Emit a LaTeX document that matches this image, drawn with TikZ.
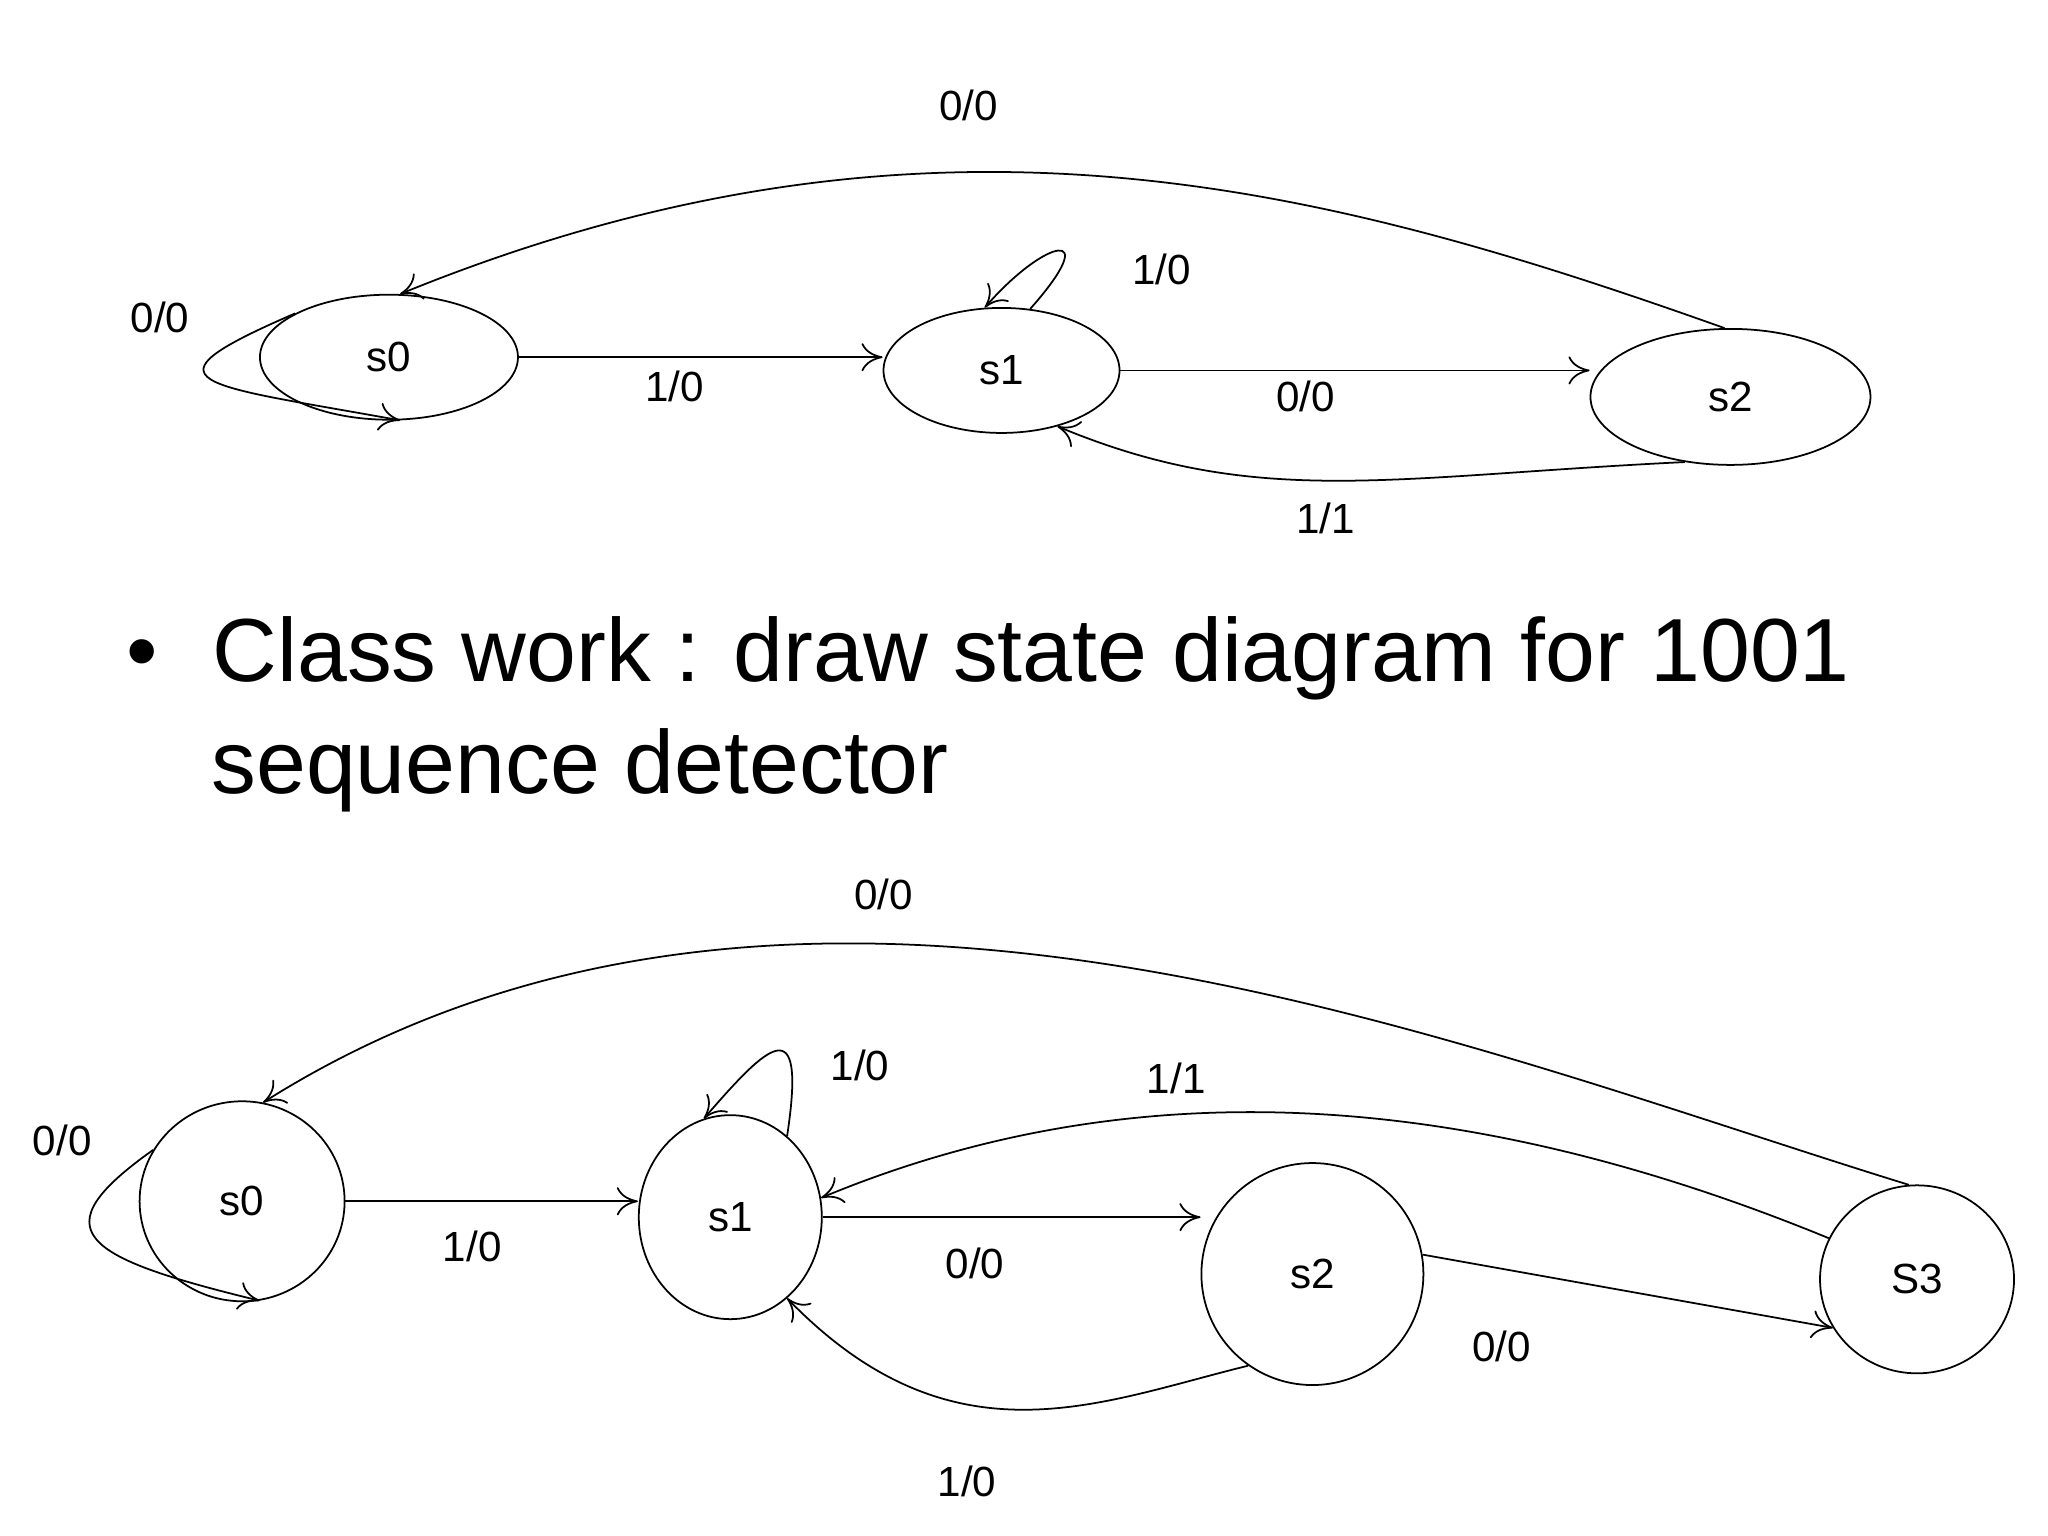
\documentclass[tikz,border=0pt]{standalone}
\usepackage{fontspec}
\setmainfont{Liberation Sans}
\usetikzlibrary{shapes.geometric,arrows.meta}
\begin{document}
\begin{tikzpicture}[x=0.01323cm,y=-0.01323cm,
  st/.style={ellipse,draw,line width=0.5pt,inner sep=0pt,font=\rmfamily\large},
  lb/.style={font=\rmfamily\large},
  ed/.style={draw,line width=0.5pt,-{To[length=6pt,width=8pt]}}]
\useasboundingbox (0,0) rectangle (1548,1161);
% top diagram
\node[st,minimum width=2.58cm,minimum height=1.25cm] (a0) at (294,270) {s0};
\node[st,minimum width=2.36cm,minimum height=1.25cm] (a1) at (757,280) {s1};
\node[st,minimum width=2.8cm,minimum height=1.36cm] (a2) at (1308,300) {s2};
\draw[ed] (a2.95) .. controls (1000,140) and (700,60) .. (a0.80);
\draw[ed] (a1.65) .. controls (835,170) and (790,180) .. (a1.105);
\draw[ed] (a0.155) .. controls (100,290) and (150,290) .. (a0.-80);
\draw[ed] (a0.east) -- (a1.west|-a0.east);
\draw[ed] (a1.east) -- (a2.west|-a1.east);
\draw[ed] (a2.-125) .. controls (1050,360) and (950,385) .. (a1.-45);
\node[lb] (t1) at (732,80) {0/0};
\node[lb] (t2) at (878,204) {1/0};
\node[lb] (t3) at (121,240) {0/0};
\node[lb] (t4) at (510,292) {1/0};
\node[lb] (t5) at (987,300) {0/0};
\node[lb] (t6) at (1002,392) {1/1};
% bullet text
\node[anchor=west,font=\fontsize{25.5}{32}\selectfont,align=left,inner sep=0pt] (txt) at (95,540)
 {\textbullet\hspace{0.55cm}Class work : draw state diagram for 1001\\\hspace{0.85cm}sequence detector};
% bottom diagram
\node[st,minimum width=2.05cm,minimum height=2.0cm] (b0) at (183,908) {s0};
\node[st,minimum width=1.83cm,minimum height=2.04cm] (b1) at (552,920) {s1};
\node[st,minimum width=2.22cm,minimum height=2.22cm] (b2) at (992,963) {s2};
\node[st,minimum width=1.94cm,minimum height=1.88cm] (b3) at (1449,967) {S3};
\draw[ed] (b3.95) .. controls (1100,790) and (600,580) .. (b0.78);
\draw[ed] (b1.55) .. controls (610,760) and (580,790) .. (b1.105);
\draw[ed] (b3.155) .. controls (1100,820) and (850,810) .. (b1.12);
\draw[ed] (b0.150) .. controls (30,930) and (60,950) .. (b0.-80);
\draw[ed] (b0.east) -- (b1.west|-b0.east);
\draw[ed] (b1.east) -- (b2.west|-b1.east);
\draw[ed] (b2.10) -- (b3.-150);
\draw[ed] (b2.-125) .. controls (830,1060) and (720,1110) .. (b1.-55);
\node[lb] (u1) at (668,676) {0/0};
\node[lb] (u2) at (650,805) {1/0};
\node[lb] (u3) at (889,815) {1/1};
\node[lb] (u4) at (47,862) {0/0};
\node[lb] (u5) at (357,942) {1/0};
\node[lb] (u6) at (737,955) {0/0};
\node[lb] (u7) at (1135,1018) {0/0};
\node[lb] (u8) at (731,1120) {1/0};
\end{tikzpicture}
\end{document}
